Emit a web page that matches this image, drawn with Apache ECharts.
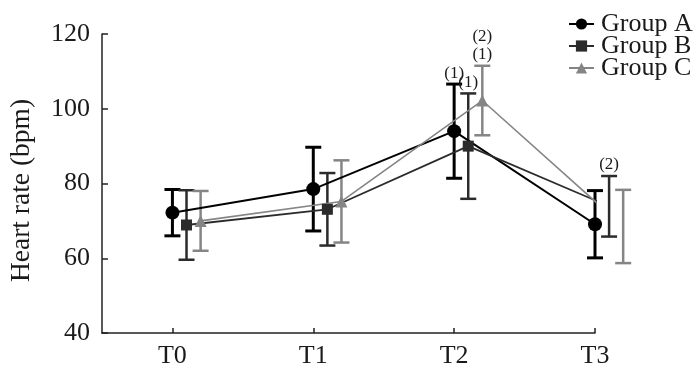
<!DOCTYPE html>
<html>
<head>
<meta charset="utf-8">
<script src="https://cdn.jsdelivr.net/npm/echarts@6/dist/echarts.min.js"></script>
<style>
  html, body { margin: 0; padding: 0; background: #fff; }
  #chart { width: 700px; height: 375px; }
</style>
</head>
<body>
<div id="chart"></div>
<script>
const categories = ['T0', 'T1', 'T2', 'T3']
const yTicks = [40, 60, 80, 100, 120]

// mean and SD
const groupA = [72.2, 78.5, 94.0, 69.1]
const errA = [6.2, 11.2, 12.6, 9.0]
const groupB = [68.9, 73.1, 90.0, 73.9]
const errB = [9.3, 9.7, 14.1, 8.1]
const groupC = [70.0, 75.2, 102.2, 68.5]
const errC = [8.0, 11.0, 9.3, 9.8]

// significance marks above the error bars
const noteA = ['', '', '(1)', '']
const noteB = ['', '', '(1)', '(2)']
const noteC = ['', '', '(2)\n(1)', '']

const serif = '"Liberation Serif", "DejaVu Serif", serif'
const offsets = [0, 0.1, 0.2] // horizontal dodge of each group

function points (values, k) {
  return values.map((v, i) => [i + offsets[k], v])
}
function bars (values, errs, k) {
  return values.map((v, i) => [i + offsets[k], v - errs[i], v + errs[i]])
}

function errorBar (color, width, notes) {
  return function (params, api) {
    const x = api.value(0)
    const lo = api.coord([x, api.value(1)])
    const hi = api.coord([x, api.value(2)])
    const cap = 8
    const style = { stroke: color, lineWidth: width }
    const children = [
      { type: 'line', shape: { x1: hi[0], y1: hi[1], x2: lo[0], y2: lo[1] }, style },
      { type: 'line', shape: { x1: hi[0] - cap, y1: hi[1], x2: hi[0] + cap, y2: hi[1] }, style },
      { type: 'line', shape: { x1: lo[0] - cap, y1: lo[1], x2: lo[0] + cap, y2: lo[1] }, style }
    ]
    const note = notes[params.dataIndex]
    if (note) {
      children.push({
        type: 'text',
        style: {
          text: note,
          x: hi[0],
          y: hi[1] - 2,
          align: 'center',
          verticalAlign: 'bottom',
          fontSize: 17,
          lineHeight: 18,
          fontFamily: serif,
          fill: '#1a1a1a'
        }
      })
    }
    return { type: 'group', children }
  }
}

const chart = echarts.init(document.getElementById('chart'))
chart.setOption({
  animation: false,
  grid: { left: 100, right: 105, top: 34, bottom: 42, containLabel: false },
  legend: {
    data: ['Group A', 'Group B', 'Group C'],
    orient: 'vertical',
    left: 563,
    top: 6,
    itemGap: -4,
    itemWidth: 25,
    itemHeight: 14,
    textStyle: { fontFamily: serif, fontSize: 26, color: '#1a1a1a', padding: [0, 0, 0, 2] }
  },
  xAxis: {
    type: 'value',
    min: -0.5,
    max: 3,
    splitLine: { show: false },
    axisLine: { onZero: false, lineStyle: { color: '#222', width: 1.5 } },
    axisTick: { inside: true, length: 5, customValues: [0, 1, 2, 3], lineStyle: { color: '#222', width: 1.5 } },
    axisLabel: {
      customValues: [0, 1, 2, 3],
      formatter: v => categories[Math.round(v)],
      fontFamily: serif,
      fontSize: 26,
      color: '#1a1a1a',
      margin: 10
    }
  },
  yAxis: {
    type: 'value',
    min: yTicks[0],
    max: yTicks[yTicks.length - 1],
    interval: 20,
    name: 'Heart rate (bpm)',
    nameLocation: 'middle',
    nameGap: 66,
    nameTextStyle: { fontFamily: serif, fontSize: 27.5, color: '#1a1a1a', padding: [0, 14, 0, 0] },
    splitLine: { show: false },
    axisLine: { show: true, onZero: false, lineStyle: { color: '#222', width: 1.5 } },
    axisTick: { show: true, inside: true, length: 6, lineStyle: { color: '#222', width: 1.5 } },
    axisLabel: { fontFamily: serif, fontSize: 26, color: '#1a1a1a', margin: 12 }
  },
  series: [
    {
      type: 'custom', name: 'barA', z: 2,
      renderItem: errorBar('#000', 3, noteA),
      data: bars(groupA, errA, 0), encode: { x: 0, y: [1, 2] }
    },
    {
      type: 'custom', name: 'barB', z: 2,
      renderItem: errorBar('#2b2b2b', 2.5, noteB),
      data: bars(groupB, errB, 1), encode: { x: 0, y: [1, 2] }
    },
    {
      type: 'custom', name: 'barC', z: 2,
      renderItem: errorBar('#858585', 2.5, noteC),
      data: bars(groupC, errC, 2), encode: { x: 0, y: [1, 2] }
    },
    {
      name: 'Group A', type: 'line', z: 3,
      data: points(groupA, 0),
      symbol: 'circle', symbolSize: 14,
      itemStyle: { color: '#000' },
      lineStyle: { color: '#000', width: 2 }
    },
    {
      name: 'Group B', type: 'line', z: 3,
      data: points(groupB, 1),
      symbol: 'rect', symbolSize: 11,
      itemStyle: { color: '#2b2b2b' },
      lineStyle: { color: '#2b2b2b', width: 1.8 }
    },
    {
      name: 'Group C', type: 'line', z: 3,
      data: points(groupC, 2),
      symbol: 'triangle', symbolSize: 12,
      itemStyle: { color: '#858585' },
      lineStyle: { color: '#858585', width: 1.6 }
    }
  ]
})
</script>
</body>
</html>
